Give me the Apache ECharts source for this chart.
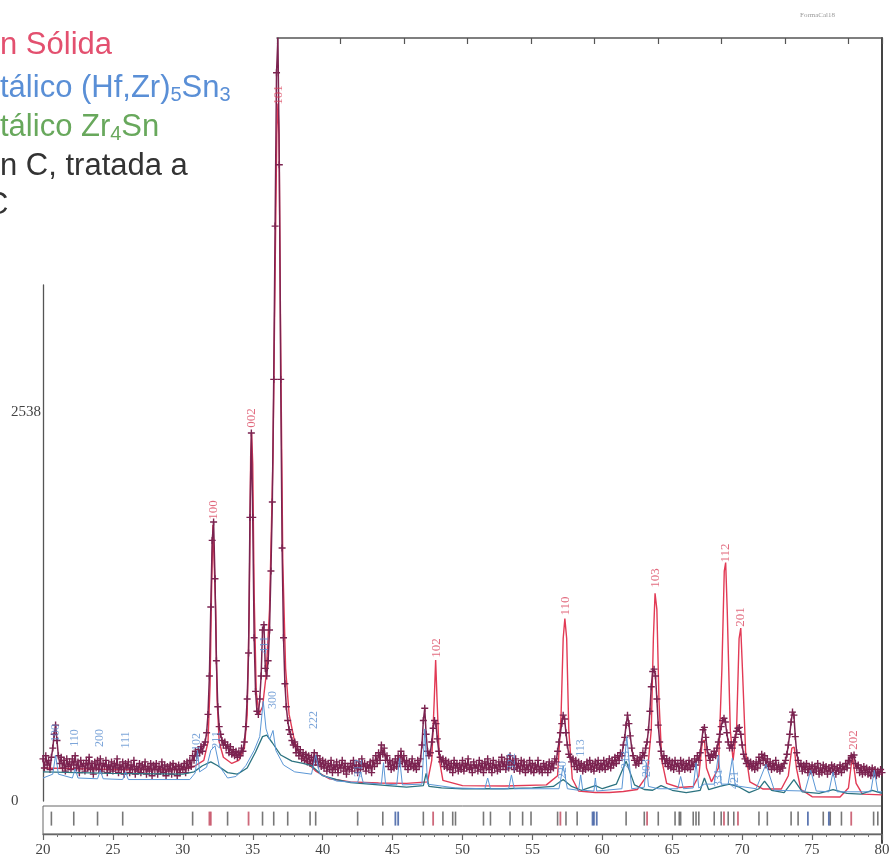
<!DOCTYPE html>
<html>
<head>
<meta charset="utf-8">
<script src="https://cdn.jsdelivr.net/npm/echarts@6/dist/echarts.min.js"></script>
<style>
  html, body { margin: 0; padding: 0; background: #fff; }
  #chart { width: 893px; height: 863px; }
</style>
</head>
<body>
<div id="chart"></div>
<script>
// ---- Diffractogram data (2θ in degrees, intensity in counts) ----

// Observed pattern, fixed step scan
const obsStart = 20;
const obsStep = 0.1;
const obsCounts = [
  275, 215, 295, 235, 265, 205, 285, 345, 435, 495,
  395, 295, 245, 285, 215, 265, 195, 275, 225, 255,
  205, 275, 235, 295, 215, 255, 185, 265, 225, 245,
  195, 265, 215, 285, 205, 245, 175, 255, 215, 265,
  205, 275, 195, 245, 225, 265, 185, 235, 205, 255,
  195, 245, 215, 275, 185, 235, 205, 255, 175, 245,
  215, 255, 185, 235, 205, 265, 175, 225, 195, 245,
  185, 235, 205, 255, 175, 225, 195, 245, 165, 235,
  205, 245, 175, 225, 195, 255, 185, 235, 165, 225,
  195, 235, 175, 245, 205, 225, 165, 235, 185, 225,
  205, 245, 185, 255, 215, 265, 225, 295, 265, 325,
  295, 335, 315, 355, 325, 365, 385, 445, 565, 815,
  1265, 1700, 1820, 1450, 915, 615, 485, 435, 395, 365,
  385, 345, 365, 315, 355, 305, 335, 295, 325, 285,
  315, 295, 345, 325, 385, 485, 665, 965, 1850, 2400,
  1850, 1065, 715, 585, 565, 665, 815, 1115, 1150, 865,
  815, 915, 1115, 1500, 1950, 2750, 3750, 4750, 4980, 4150,
  2750, 1650, 1065, 765, 615, 525, 465, 435, 395, 365,
  385, 315, 355, 295, 335, 275, 315, 265, 305, 255,
  295, 245, 285, 235, 315, 255, 295, 235, 275, 225,
  265, 215, 255, 195, 245, 205, 265, 185, 235, 205,
  255, 185, 235, 215, 265, 195, 245, 175, 225, 205,
  245, 195, 265, 215, 235, 185, 255, 205, 275, 225,
  245, 195, 235, 215, 255, 185, 265, 225, 295, 245,
  315, 265, 365, 305, 345, 265, 295, 225, 265, 205,
  255, 215, 275, 225, 295, 245, 325, 255, 295, 225,
  265, 205, 255, 225, 275, 215, 245, 205, 265, 225,
  275, 365, 525, 605, 435, 325, 295, 315, 385, 475,
  525, 505, 405, 325, 285, 255, 275, 225, 265, 215,
  255, 205, 245, 185, 265, 215, 245, 195, 235, 205,
  265, 195, 245, 215, 275, 205, 235, 185, 255, 215,
  235, 195, 265, 205, 245, 185, 255, 215, 275, 205,
  245, 185, 265, 215, 235, 195, 255, 205, 285, 225,
  255, 205, 275, 215, 295, 235, 265, 205, 275, 215,
  245, 195, 265, 205, 255, 185, 235, 205, 265, 195,
  245, 185, 235, 205, 265, 195, 225, 185, 245, 205,
  235, 185, 255, 205, 245, 215, 275, 255, 325, 385,
  445, 505, 560, 535, 445, 365, 305, 285, 255, 275,
  225, 265, 205, 255, 215, 245, 195, 235, 205, 255,
  215, 265, 205, 245, 195, 255, 215, 265, 205, 245,
  215, 265, 205, 255, 225, 275, 215, 265, 235, 285,
  245, 295, 265, 315, 295, 365, 415, 495, 560, 505,
  425, 345, 295, 265, 235, 275, 245, 285, 265, 315,
  295, 345, 385, 465, 585, 745, 845, 860, 815, 665,
  495, 385, 325, 275, 295, 245, 275, 225, 265, 215,
  255, 205, 265, 225, 245, 195, 265, 215, 255, 205,
  245, 215, 265, 205, 255, 225, 275, 235, 295, 265,
  315, 385, 465, 480, 415, 335, 295, 265, 305, 285,
  325, 295, 345, 385, 435, 485, 525, 540, 515, 445,
  385, 345, 365, 345, 385, 415, 455, 475, 480, 435,
  365, 305, 275, 245, 265, 225, 255, 215, 245, 205,
  255, 215, 285, 245, 305, 265, 295, 235, 275, 225,
  255, 205, 245, 215, 265, 205, 235, 195, 225, 215,
  245, 265, 305, 365, 435, 515, 580, 560, 420, 315,
  265, 225, 245, 195, 235, 205, 245, 185, 225, 195,
  235, 185, 225, 195, 245, 175, 215, 185, 235, 195,
  225, 175, 215, 195, 235, 185, 225, 175, 215, 195,
  235, 185, 225, 205, 245, 215, 265, 255, 295, 285,
  300, 245, 215, 235, 185, 215, 175, 225, 185, 215,
  175, 205, 165, 215, 175, 205, 165, 195, 175, 205,
  185
];

// Calculated profile of the solid solution (hcp) phase: [2θ, counts]
const calcSolidSolution = [
  [20, 215], [25, 205], [30, 205], [30.8, 225], [31.5, 265], [31.8, 385], [31.95, 760],
  [32.05, 1350], [32.15, 1800], [32.25, 1800], [32.35, 1250], [32.45, 660], [32.6, 385],
  [32.9, 285], [33.5, 245], [34.0, 265], [34.4, 345], [34.6, 560], [34.75, 1250],
  [34.85, 2250], [34.92, 2400], [35.0, 2200], [35.1, 1350], [35.25, 710], [35.45, 565],
  [35.7, 615], [35.95, 815], [36.2, 1250], [36.45, 2250], [36.6, 3450], [36.72, 4350],
  [36.8, 4550], [36.88, 4350], [37.0, 2950], [37.15, 1550], [37.35, 865], [37.6, 565],
  [38.0, 385], [38.5, 285], [39.5, 195], [40.5, 145], [42, 125], [44, 117], [46, 115],
  [47.5, 125], [47.8, 265], [47.98, 660], [48.08, 920], [48.18, 660], [48.35, 265],
  [48.6, 135], [50, 100], [53, 98], [56, 105], [56.8, 165], [57.05, 560], [57.2, 1060],
  [57.32, 1190], [57.45, 1060], [57.6, 465], [57.85, 145], [58.3, 65], [59.5, 55],
  [60.5, 55], [61.5, 62], [62.5, 75], [63.2, 165], [63.5, 465], [63.65, 1060],
  [63.77, 1355], [63.9, 1250], [64.05, 660], [64.25, 265], [64.6, 115], [65.5, 88],
  [66.5, 95], [66.9, 165], [67.15, 385], [67.3, 398], [67.45, 215], [67.8, 125],
  [68.3, 215], [68.55, 860], [68.72, 1500], [68.82, 1555], [68.93, 1250], [69.15, 465],
  [69.35, 265], [69.6, 465], [69.78, 1060], [69.9, 1128], [70.02, 860], [70.25, 315],
  [70.55, 125], [71.5, 78], [72.8, 78], [73.3, 165], [73.55, 345], [73.72, 352],
  [73.88, 215], [74.2, 75], [75, 28], [77, 26], [77.6, 85], [77.88, 295], [77.98, 300],
  [78.15, 115], [78.6, 45], [80, 40]
];

// Calculated contribution of (Hf,Zr)5Sn3
const calcHfZr5Sn3 = [
  [20, 150], [20.7, 175], [20.9, 300], [21.1, 175], [22.1, 150], [22.3, 210], [22.5, 150],
  [23.9, 145], [24.1, 200], [24.3, 145], [25.7, 140], [25.9, 190], [26.1, 140], [30.5, 140],
  [30.9, 185], [31.05, 330], [31.2, 190], [31.7, 220], [32.0, 330], [32.3, 360], [32.6, 230],
  [33.2, 150], [33.8, 160], [34.5, 230], [35.1, 330], [35.5, 420], [35.75, 650], [35.95, 470],
  [36.2, 400], [36.45, 460], [36.65, 330], [37.2, 235], [38, 190], [39.2, 175], [39.5, 300],
  [39.8, 175], [41, 130], [42.5, 120], [42.7, 190], [42.9, 120], [44.2, 110], [44.35, 250],
  [44.5, 110], [45.3, 105], [45.5, 280], [45.7, 105], [47.1, 110], [47.3, 470], [47.5, 110],
  [49.5, 85], [51.6, 80], [51.8, 150], [52.0, 80], [53.3, 80], [53.5, 170], [53.7, 80],
  [56.9, 80], [57.2, 230], [57.5, 80], [58.3, 70], [58.45, 170], [58.6, 70], [59.4, 65],
  [59.5, 150], [59.6, 65], [61.4, 80], [61.75, 420], [62.1, 80], [63.0, 90], [63.15, 250],
  [63.3, 95], [64.0, 80], [65.4, 80], [65.6, 160], [65.8, 80], [66.5, 85], [66.7, 250],
  [66.9, 85], [67.3, 110], [68.0, 110], [68.3, 300], [68.5, 110], [69.0, 110], [69.3, 280],
  [69.5, 100], [71.0, 80], [71.7, 240], [72.3, 70], [74.5, 65], [74.9, 200], [75.3, 65],
  [76.2, 60], [76.5, 190], [76.8, 60], [79.2, 60], [79.45, 200], [79.7, 60], [80, 60]
];

// Calculated contribution of Zr4Sn
const calcZr4Sn = [
  [20, 190], [25, 180], [30, 175], [30.8, 190], [31.4, 230], [32.0, 255], [32.5, 230],
  [33.2, 185], [33.9, 175], [34.6, 215], [35.2, 320], [35.7, 420], [36.0, 430], [36.4, 380],
  [37.0, 300], [37.8, 260], [38.6, 245], [39.2, 230], [40, 165], [41, 140], [42, 120],
  [44, 105], [46, 90], [47.2, 100], [47.4, 180], [47.6, 95], [48.5, 85], [50, 80], [53, 80],
  [55, 85], [56.5, 95], [57.2, 140], [57.8, 95], [58.5, 70], [59.5, 100], [60, 80],
  [61, 110], [61.7, 260], [62.3, 105], [63, 75], [63.6, 70], [64.2, 100], [65, 70],
  [66, 55], [67, 70], [67.3, 150], [67.6, 75], [68.4, 95], [69.1, 110], [69.8, 90],
  [70.5, 55], [71.2, 80], [71.6, 130], [72.1, 70], [73.0, 55], [73.7, 140], [74.3, 60],
  [75.5, 50], [76.5, 75], [77.5, 50], [78.5, 45], [79.3, 70], [80, 50]
];

// Reflection positions (2θ) shown as tick marks under the pattern
const braggSolidSolution = [31.9, 32.0, 34.7, 47.9, 57.0, 63.2, 68.7, 69.7, 77.8];
const braggHfZr5Sn3 = [45.2, 45.4, 59.3, 59.4, 59.6, 74.7, 76.2];
const braggZr4Sn = [20.6, 22.2, 23.9, 25.7, 30.7, 33.2, 35.7, 36.5, 37.5, 39.1, 39.5, 42.5,
  44.3, 47.2, 48.6, 49.3, 49.5, 51.5, 52.0, 53.4, 54.3, 54.9, 56.8, 57.4, 58.2, 61.7,
  63.0, 64.0, 65.2, 65.5, 65.6, 66.5, 66.7, 66.9, 68.0, 68.5, 69.0, 69.4, 71.2, 71.8,
  73.5, 74.0, 75.8, 76.3, 77.1, 79.4, 79.7];

// Miller indices of the solid solution peaks
const ssHklPos = [32.2, 34.9, 36.85, 48.13, 57.37, 63.8, 68.82, 69.9, 78.0];
const ssHklY = [1898, 2498, 4605, 998, 1272, 1455, 1618, 1200, 398];
const ssHklText = ['100', '002', '101', '102', '110', '103', '112', '201', '202'];

// Miller indices of the intermetallic peaks
const imHklPos = [20.9, 22.3, 24.1, 25.9, 31.0, 32.4, 35.85, 36.45, 39.4, 42.6, 53.5, 57.15, 58.45, 61.7, 63.2, 68.3, 69.45];
const imHklY = [444, 411, 411, 398, 385, 398, 1018, 659, 528, 215, 254, 202, 346, 267, 215, 150, 137];
const imHklText = ['100', '110', '200', '111', '102', '211', '411', '300', '222', '312', '322', '220', '113', '213', '203', '331', '421'];

// Axis settings
const xMin = 20, xMax = 80, xStep = 5;
const yTickValues = [0, 2538];

const toPairs = (xs, ys) => xs.map((x, i) => [x, ys[i]]);
const obsData = obsCounts.map((c, i) => [Math.round((obsStart + i * obsStep) * 10) / 10, c]);

const serif = '"Liberation Serif", "DejaVu Serif", serif';
const sans = '"Liberation Sans", Arial, sans-serif';
// small "+" marker used for the observed points
const plusSymbol = 'path://M4,0H6V4H10V6H6V10H4V6H0V4H4Z';

const chart = echarts.init(document.getElementById('chart'), null, { renderer: 'canvas' });

const hiddenAxis = { show: false, splitLine: { show: false } };

const option = {
  animation: false,
  backgroundColor: '#ffffff',
  grid: [
    // 0: pattern area
    { left: 43, right: 11, top: 38, bottom: 62 },
    // 1: intensity axis
    { left: 43, right: 11, top: 285, bottom: 62 },
    // 2: reflection marker strip + 2θ axis
    { left: 43, right: 11, top: 806, bottom: 29, show: true, borderColor: '#666', borderWidth: 1, backgroundColor: 'transparent' },
    // 3: upper / right frame
    { left: 277, right: 11, top: 38, bottom: 20 }
  ],
  xAxis: [
    Object.assign({ type: 'value', gridIndex: 0, min: xMin, max: xMax }, hiddenAxis),
    Object.assign({ type: 'value', gridIndex: 1, min: xMin, max: xMax }, hiddenAxis),
    {
      type: 'value', gridIndex: 2, min: xMin, max: xMax, interval: xStep, position: 'bottom',
      axisLine: { show: true, onZero: false, lineStyle: { color: '#666', width: 1.3 } },
      axisTick: { show: true, length: 6, lineStyle: { color: '#666', width: 1.2 } },
      minorTick: { show: true, splitNumber: 5, length: 3, lineStyle: { color: '#777', width: 1 } },
      axisLabel: { color: '#444', fontFamily: serif, fontSize: 15, margin: 9 },
      splitLine: { show: false }, minorSplitLine: { show: false }
    },
    {
      type: 'value', gridIndex: 3, min: 0, max: 9.53, interval: 1, position: 'top',
      axisLine: { show: true, onZero: false, lineStyle: { color: '#555', width: 1.5 } },
      axisTick: { show: true, inside: true, length: 6, lineStyle: { color: '#555', width: 1.2 } },
      axisLabel: { show: false }, splitLine: { show: false }
    }
  ],
  yAxis: [
    Object.assign({ type: 'value', gridIndex: 0, min: 0, max: 4977 }, hiddenAxis),
    {
      type: 'value', gridIndex: 1, min: 0, max: 3366,
      axisLine: { show: true, onZero: false, lineStyle: { color: '#555', width: 1.3 } },
      axisTick: { show: false },
      axisLabel: {
        customValues: yTickValues, align: 'left', margin: 33,
        formatter: v => String(v),
        color: '#444', fontFamily: serif, fontSize: 15,
        backgroundColor: '#fff', padding: [0, 1]
      },
      splitLine: { show: false }
    },
    Object.assign({ type: 'value', gridIndex: 2, min: 0, max: 1 }, hiddenAxis),
    {
      type: 'value', gridIndex: 3, min: 0, max: 1, position: 'right',
      axisLine: { show: true, onZero: false, lineStyle: { color: '#444', width: 2 } },
      axisTick: { show: false }, axisLabel: { show: false }, splitLine: { show: false }
    }
  ],
  graphic: [
    { type: 'text', x: 0, y: 45, style: { text: 'n Sólida', font: '31px ' + sans, fill: '#e3506f', verticalAlign: 'middle' } },
    {
      type: 'text', x: 0, y: 88,
      style: {
        text: '{m|tálico (Hf,Zr)}{s|5}{m|Sn}{s|3}', verticalAlign: 'middle',
        rich: {
          m: { fontSize: 31, fontFamily: sans, fill: '#5a8fd6', lineHeight: 35 },
          s: { fontSize: 20, fontFamily: sans, fill: '#5a8fd6', verticalAlign: 'bottom' }
        }
      }
    },
    {
      type: 'text', x: 0, y: 127,
      style: {
        text: '{m|tálico Zr}{s|4}{m|Sn}', verticalAlign: 'middle',
        rich: {
          m: { fontSize: 31, fontFamily: sans, fill: '#68a85c', lineHeight: 35 },
          s: { fontSize: 20, fontFamily: sans, fill: '#68a85c', verticalAlign: 'bottom' }
        }
      }
    },
    { type: 'text', x: 0, y: 166, style: { text: 'n C, tratada a', font: '31px ' + sans, fill: '#333', verticalAlign: 'middle' } },
    { type: 'text', x: -14, y: 205, style: { text: 'C', font: '31px ' + sans, fill: '#333', verticalAlign: 'middle' } },
    { type: 'text', x: 800, y: 15, style: { text: 'FormaCal18', font: '7px ' + serif, fill: '#999', verticalAlign: 'middle' } }
  ],
  series: [
    {
      name: 'Observado', type: 'line', xAxisIndex: 0, yAxisIndex: 0,
      data: obsData, showSymbol: true, symbol: plusSymbol, symbolSize: 7, sampling: null,
      itemStyle: { color: '#7b2350' },
      lineStyle: { color: '#7b2350', width: 1.5 }, z: 3
    },
    {
      name: 'Solución sólida', type: 'line', xAxisIndex: 0, yAxisIndex: 0,
      data: calcSolidSolution, showSymbol: false,
      lineStyle: { color: '#e23a55', width: 1.4 }, z: 2
    },
    {
      name: 'Zr4Sn', type: 'line', xAxisIndex: 0, yAxisIndex: 0,
      data: calcZr4Sn, showSymbol: false,
      lineStyle: { color: '#2c7380', width: 1.3 }, z: 4
    },
    {
      name: '(Hf,Zr)5Sn3', type: 'line', xAxisIndex: 0, yAxisIndex: 0,
      data: calcHfZr5Sn3, showSymbol: false,
      lineStyle: { color: '#5b97d6', width: 1 }, z: 4
    },
    {
      name: 'hkl solución', type: 'scatter', xAxisIndex: 0, yAxisIndex: 0,
      data: toPairs(ssHklPos, ssHklY), symbolSize: 1, itemStyle: { color: 'transparent' },
      label: {
        show: true, position: 'inside', rotate: 90,
        formatter: p => ssHklText[p.dataIndex],
        color: '#d9445d', fontFamily: serif, fontSize: 13
      }, z: 6
    },
    {
      name: 'hkl intermetálicos', type: 'scatter', xAxisIndex: 0, yAxisIndex: 0,
      data: toPairs(imHklPos, imHklY), symbolSize: 1, itemStyle: { color: 'transparent' },
      label: {
        show: true, position: 'inside', rotate: 90,
        formatter: p => imHklText[p.dataIndex],
        color: '#5b8ed0', fontFamily: serif, fontSize: 12
      }, z: 6
    },
    {
      type: 'scatter', xAxisIndex: 2, yAxisIndex: 2,
      data: braggZr4Sn.map(x => [x, 0.55]), symbol: 'rect', symbolSize: [1.6, 14],
      itemStyle: { color: '#555' }
    },
    {
      type: 'scatter', xAxisIndex: 2, yAxisIndex: 2,
      data: braggHfZr5Sn3.map(x => [x, 0.55]), symbol: 'rect', symbolSize: [1.8, 14],
      itemStyle: { color: '#34559e' }
    },
    {
      type: 'scatter', xAxisIndex: 2, yAxisIndex: 2,
      data: braggSolidSolution.map(x => [x, 0.55]), symbol: 'rect', symbolSize: [1.8, 14],
      itemStyle: { color: '#c2445a' }
    }
  ]
};

chart.setOption(option);
</script>
</body>
</html>
